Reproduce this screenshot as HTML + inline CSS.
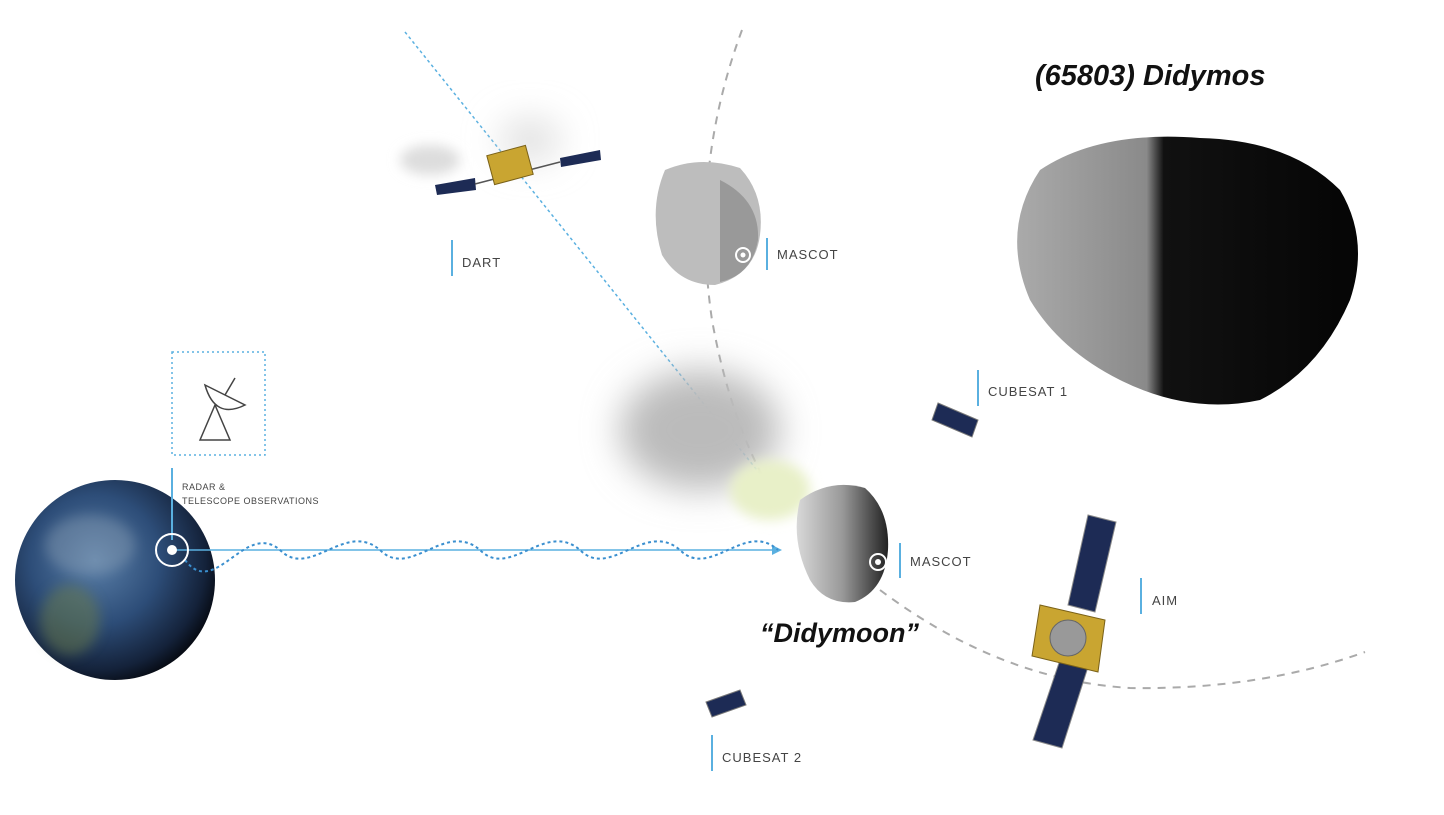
<!DOCTYPE html>
<html><head><meta charset="utf-8"><style>
html,body{margin:0;padding:0;background:#fff;}
svg{display:block;}
.lbl{font-family:"Liberation Sans",sans-serif;font-size:13px;fill:#444;letter-spacing:1px;}
.sm{font-family:"Liberation Sans",sans-serif;font-size:9px;fill:#444;letter-spacing:0.5px;}
.big{font-family:"Liberation Sans",sans-serif;font-style:italic;font-weight:bold;fill:#111;}
</style></head><body>
<svg width="1444" height="815" viewBox="0 0 1444 815" xmlns="http://www.w3.org/2000/svg">
<defs>
<radialGradient id="earth" cx="40%" cy="40%" r="65%">
<stop offset="0" stop-color="#5a7fa8"/><stop offset="0.5" stop-color="#2d4d78"/><stop offset="0.85" stop-color="#14223a"/><stop offset="1" stop-color="#05080f"/>
</radialGradient>
<linearGradient id="didy" x1="0" y1="0" x2="1" y2="0">
<stop offset="0" stop-color="#aaa"/><stop offset="0.38" stop-color="#8a8a8a"/><stop offset="0.43" stop-color="#111"/><stop offset="1" stop-color="#050505"/>
</linearGradient>
<linearGradient id="moon" x1="0" y1="0" x2="1" y2="0">
<stop offset="0" stop-color="#d8d8d8"/><stop offset="0.5" stop-color="#999"/><stop offset="1" stop-color="#222"/>
</linearGradient>
<filter id="blur" x="-100%" y="-100%" width="300%" height="300%"><feGaussianBlur stdDeviation="18"/></filter>
<filter id="blur2" x="-100%" y="-100%" width="300%" height="300%"><feGaussianBlur stdDeviation="6"/></filter>
</defs>

<path d="M742,30 Q690,170 712,320 Q730,420 770,490" fill="none" stroke="#aaa" stroke-width="2" stroke-dasharray="8,7"/>
<path d="M880,590 Q1000,680 1130,688 Q1260,690 1365,652" fill="none" stroke="#aaa" stroke-width="2" stroke-dasharray="8,7"/>
<line x1="405" y1="32" x2="785" y2="505" stroke="#5ab0e0" stroke-width="1.5" stroke-dasharray="3,3"/>

<ellipse cx="700" cy="430" rx="80" ry="60" fill="#bbb" filter="url(#blur)"/>
<ellipse cx="770" cy="490" rx="40" ry="30" fill="#e8f0c8" filter="url(#blur2)"/>

<path d="M1040,170 Q1100,130 1200,138 Q1290,140 1340,190 Q1370,240 1350,300 Q1320,370 1260,400 Q1190,415 1120,380 Q1060,350 1030,300 Q1000,230 1040,170Z" fill="url(#didy)"/>
<text x="1035" y="85" class="big" font-size="29">(65803) Didymos</text>

<path d="M665,170 Q700,155 740,168 Q765,195 760,235 Q755,275 715,285 Q680,285 662,255 Q648,210 665,170Z" fill="#bdbdbd"/>
<path d="M720,180 Q760,200 758,240 Q752,275 720,282 Z" fill="#999"/>
<circle cx="743" cy="255" r="7" fill="none" stroke="#fff" stroke-width="2"/><circle cx="743" cy="255" r="2.5" fill="#fff"/>
<line x1="767" y1="238" x2="767" y2="270" stroke="#5ab0e0" stroke-width="2"/>
<text x="777" y="259" class="lbl">MASCOT</text>

<path d="M800,500 Q830,478 865,488 Q890,510 888,550 Q885,590 855,602 Q825,605 810,580 Q790,540 800,500Z" fill="url(#moon)"/>
<circle cx="878" cy="562" r="8" fill="none" stroke="#fff" stroke-width="2"/><circle cx="878" cy="562" r="3" fill="#fff"/>
<line x1="900" y1="543" x2="900" y2="578" stroke="#5ab0e0" stroke-width="2"/>
<text x="910" y="566" class="lbl">MASCOT</text>
<text x="760" y="642" class="big" font-size="27">“Didymoon”</text>

<circle cx="115" cy="580" r="100" fill="url(#earth)"/>
<ellipse cx="90" cy="545" rx="45" ry="30" fill="#9ab" opacity="0.35" filter="url(#blur2)"/>
<ellipse cx="70" cy="620" rx="30" ry="35" fill="#6a7b4a" opacity="0.5" filter="url(#blur2)"/>

<rect x="172" y="352" width="93" height="103" fill="none" stroke="#5ab0e0" stroke-width="1.5" stroke-dasharray="2,3"/>
<path d="M200,440 L215,405 L230,440 Z M205,385 Q215,420 245,405 Z M225,395 L235,378" fill="none" stroke="#444" stroke-width="1.5"/>
<line x1="172" y1="468" x2="172" y2="540" stroke="#5ab0e0" stroke-width="2"/>
<text x="182" y="490" class="sm">RADAR &amp;</text>
<text x="182" y="504" class="sm">TELESCOPE OBSERVATIONS</text>

<line x1="172" y1="550" x2="778" y2="550" stroke="#5ab0e0" stroke-width="1.5"/>
<path d="M772,545 L782,550 L772,555 Z" fill="#5ab0e0"/>
<path d="M185,560 C215,600 245,520 280,550 C310,580 345,520 380,550 C410,580 445,520 480,550 C510,580 545,520 580,550 C610,580 645,520 680,550 C710,580 745,520 778,550" fill="none" stroke="#3a8fcf" stroke-width="2" stroke-dasharray="3,3"/>
<circle cx="172" cy="550" r="16" fill="none" stroke="#fff" stroke-width="2"/><circle cx="172" cy="550" r="5" fill="#fff"/>

<ellipse cx="530" cy="140" rx="30" ry="20" fill="#ddd" filter="url(#blur)"/>
<ellipse cx="430" cy="160" rx="30" ry="15" fill="#ddd" filter="url(#blur2)"/>
<polygon points="435,185 475,178 476,190 437,195" fill="#1d2b55"/>
<polygon points="560,158 600,150 601,160 561,167" fill="#1d2b55"/>
<line x1="475" y1="184" x2="560" y2="162" stroke="#555" stroke-width="1.5"/>
<rect x="490" y="150" width="40" height="30" fill="#c9a531" stroke="#7a6118" transform="rotate(-15 510 165)"/>
<line x1="452" y1="240" x2="452" y2="276" stroke="#5ab0e0" stroke-width="2"/>
<text x="462" y="267" class="lbl">DART</text>

<polygon points="938,403 978,420 972,437 932,420" fill="#1d2b55" stroke="#777"/>
<line x1="978" y1="370" x2="978" y2="406" stroke="#5ab0e0" stroke-width="2"/>
<text x="988" y="396" class="lbl">CUBESAT 1</text>

<polygon points="706,702 740,690 746,705 712,717" fill="#1d2b55" stroke="#777"/>
<line x1="712" y1="735" x2="712" y2="771" stroke="#5ab0e0" stroke-width="2"/>
<text x="722" y="762" class="lbl">CUBESAT 2</text>

<polygon points="1088,515 1116,522 1095,612 1068,605" fill="#1d2b55" stroke="#888"/>
<polygon points="1060,660 1088,667 1062,748 1033,740" fill="#1d2b55" stroke="#888"/>
<polygon points="1040,605 1105,620 1098,672 1032,656" fill="#c9a531" stroke="#7a6118"/>
<circle cx="1068" cy="638" r="18" fill="#999" stroke="#666"/>
<line x1="1141" y1="578" x2="1141" y2="614" stroke="#5ab0e0" stroke-width="2"/>
<text x="1152" y="605" class="lbl">AIM</text>
</svg>
</body></html>
